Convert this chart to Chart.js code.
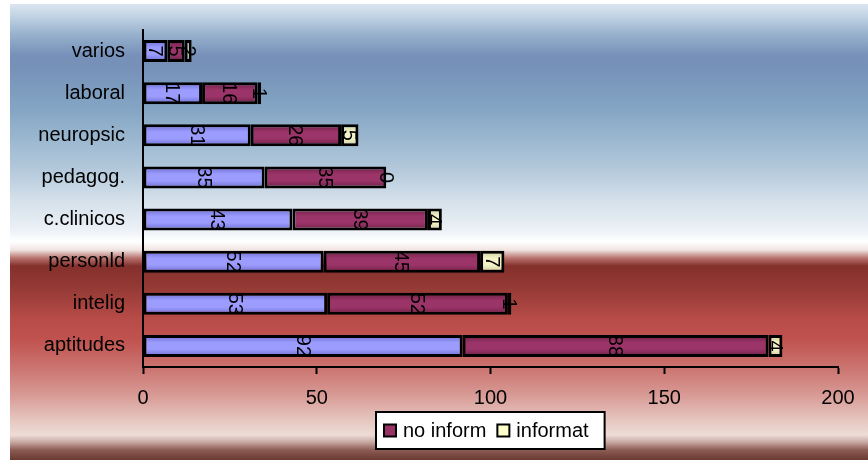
<!DOCTYPE html>
<html>
<head>
<meta charset="utf-8">
<script src="https://cdn.jsdelivr.net/npm/chart.js@4/dist/chart.umd.min.js"></script>
<style>
  html, body { margin: 0; padding: 0; background: #ffffff; }
  #wrap { width: 868px; height: 460px; position: relative; }
</style>
</head>
<body>
<div id="wrap"><canvas id="c" width="868" height="460"></canvas></div>
<script>
// Categories, top to bottom
const categories = ['varios', 'laboral', 'neuropsic', 'pedagog.', 'c.clinicos', 'personld', 'intelig', 'aptitudes'];
// Series values
const informados = [7, 17, 31, 35, 43, 52, 53, 92];
const noInform   = [5, 16, 26, 35, 39, 45, 52, 88];
const informat   = [2, 1, 5, 0, 4, 7, 1, 4];
// Value-axis tick labels
const xTicks = [0, 50, 100, 150, 200];

const FONT = 'Liberation Sans, Arial, sans-serif';
const BAR_PCT = 0.52;

// Shaded fill: darker at the top and bottom edge of each bar, light in the middle
function barShade(edge, mid) {
  return (ctx) => {
    const chart = ctx.chart;
    const y = chart.scales && chart.scales.y;
    if (!chart.chartArea || !y || ctx.dataIndex === undefined) return mid;
    const cy = y.getPixelForValue(ctx.dataIndex);
    const band = Math.abs(y.getPixelForValue(1) - y.getPixelForValue(0));
    const half = band * BAR_PCT / 2;
    const g = chart.ctx.createLinearGradient(0, cy - half, 0, cy + half);
    g.addColorStop(0, edge);
    g.addColorStop(0.35, mid);
    g.addColorStop(0.65, mid);
    g.addColorStop(1, edge);
    return g;
  };
}

// Page background band behind the whole chart
const backdrop = {
  id: 'backdrop',
  beforeDraw(chart) {
    const c = chart.ctx;
    c.save();
    c.fillStyle = '#ffffff';
    c.fillRect(0, 0, chart.width, chart.height);
    const top = 4, bottom = chart.height, h = bottom - top;
    const g = c.createLinearGradient(0, top, 0, bottom);
    const stops = [
      [4, '#dae5f0'], [16, '#c2d3e4'], [35, '#96b0cc'], [55, '#7891ba'], [65, '#7690b8'],
      [85, '#7b9abd'], [110, '#84a6c4'], [140, '#9cb8d0'], [170, '#b4c9db'], [200, '#d4e0ea'],
      [230, '#ecf1f6'], [242, '#ffffff'], [250, '#f0e4e2'], [258, '#b87470'], [266, '#84302c'],
      [290, '#973b36'], [320, '#b84c48'], [340, '#c0534f'], [370, '#cc7773'], [395, '#d89a95'],
      [420, '#e6c6c0'], [435, '#eedcd6'], [442, '#c8aaa4'], [450, '#8c5c54'], [460, '#6a3a32']
    ];
    stops.forEach(([py, col]) => g.addColorStop(Math.min(1, Math.max(0, (py - top) / h)), col));
    c.fillStyle = g;
    c.fillRect(10, top, chart.width - 10, h);
    c.restore();
  }
};

// Rotated value labels centred on each bar segment
const segmentLabels = {
  id: 'segmentLabels',
  afterDatasetsDraw(chart) {
    const c = chart.ctx;
    c.save();
    c.fillStyle = '#000000';
    c.font = '20px ' + FONT;
    c.textAlign = 'center';
    c.textBaseline = 'middle';
    chart.data.datasets.forEach((ds, i) => {
      const meta = chart.getDatasetMeta(i);
      meta.data.forEach((bar, j) => {
        const p = bar.getProps(['x', 'y', 'base'], true);
        const cx = (p.x + p.base) / 2;
        c.save();
        c.translate(cx, p.y);
        c.rotate(Math.PI / 2);
        c.fillText(String(ds.data[j]), 0, 1);
        c.restore();
      });
    });
    c.restore();
  }
};

// Boxed legend below the plot, centred on the plot area
const boxedLegend = {
  id: 'boxedLegend',
  afterDraw(chart) {
    const c = chart.ctx;
    const area = chart.chartArea;
    const items = chart.data.datasets.filter(d => d.inLegend);
    c.save();
    c.font = '20px ' + FONT;
    const sw = 12, gapSym = 7, gapItem = 11, padL = 8, padR = 16;
    let w = padL + padR;
    items.forEach((d, k) => {
      w += sw + gapSym + c.measureText(d.label).width + (k < items.length - 1 ? gapItem : 0);
    });
    const h = 37;
    const cx = (area.left + area.right) / 2;
    const x0 = Math.round(cx - w / 2), y0 = 412;
    c.fillStyle = '#ffffff';
    c.fillRect(x0, y0, w, h);
    c.lineWidth = 2;
    c.strokeStyle = '#000000';
    c.strokeRect(x0, y0, w, h);
    let x = x0 + padL;
    const my = y0 + h / 2;
    items.forEach((d) => {
      c.fillStyle = d.legendColor;
      c.fillRect(x, my - 6, sw, sw);
      c.lineWidth = 2;
      c.strokeRect(x, my - 6, sw, sw);
      x += sw + gapSym;
      c.fillStyle = '#000000';
      c.textAlign = 'left';
      c.textBaseline = 'middle';
      c.fillText(d.label, x, my + 1);
      x += c.measureText(d.label).width + gapItem;
    });
    c.restore();
  }
};

const common = { borderColor: '#000000', borderWidth: 3, borderSkipped: false, barPercentage: BAR_PCT, categoryPercentage: 1 };

new Chart(document.getElementById('c'), {
  type: 'bar',
  data: {
    labels: categories,
    datasets: [
      Object.assign({ label: 'informados', data: informados, backgroundColor: barShade('#6c6cd0', '#9c9cff'), inLegend: false, legendColor: '#9999ff' }, common),
      Object.assign({ label: 'no inform', data: noInform, backgroundColor: barShade('#6a1f45', '#9b3468'), inLegend: true, legendColor: '#993366' }, common),
      Object.assign({ label: 'informat', data: informat, backgroundColor: barShade('#c8c89a', '#f4f4c8'), inLegend: true, legendColor: '#ffffcc' }, common)
    ]
  },
  options: {
    indexAxis: 'y',
    responsive: false,
    animation: false,
    layout: { padding: { top: 28, right: 30, left: 0, bottom: 0 } },
    plugins: { legend: { display: false }, tooltip: { enabled: false } },
    scales: {
      x: {
        stacked: true,
        min: 0,
        max: 200,
        afterBuildTicks: (s) => { s.ticks = xTicks.map(v => ({ value: v })); },
        grid: { display: true, drawOnChartArea: false, drawTicks: true, tickLength: 7, tickColor: '#000000', tickWidth: 2 },
        border: { display: true, color: '#000000', width: 2 },
        ticks: { color: '#000000', font: { family: FONT, size: 20 }, padding: 12, maxRotation: 0 },
        afterFit: (s) => { s.height = 93; }
      },
      y: {
        stacked: true,
        grid: { display: false, drawTicks: false },
        border: { display: true, color: '#000000', width: 2 },
        ticks: { color: '#000000', font: { family: FONT, size: 20 }, padding: 18 },
        afterFit: (s) => { s.width = 143; }
      }
    }
  },
  plugins: [backdrop, segmentLabels, boxedLegend]
});
</script>
</body>
</html>
